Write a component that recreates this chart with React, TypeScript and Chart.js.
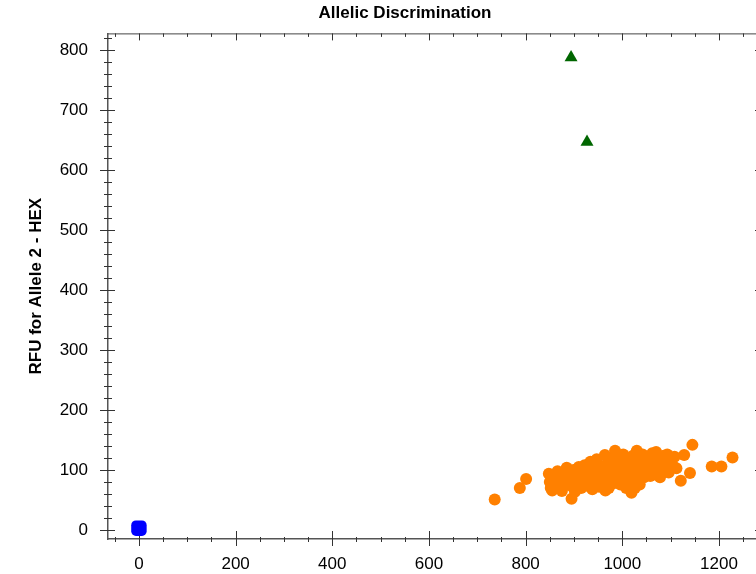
import React, { useEffect, useRef } from "react";
import { Chart, registerables } from "chart.js";

Chart.register(...registerables);

// Allele 1 homozygous (orange circles): [RFU Allele 1 - FAM, RFU Allele 2 - HEX]
const allele1Points: number[][] = [
  [736, 51], [788, 70], [801, 85],
  [848, 94], [852, 70], [850, 80], [858, 88], [862, 76], [866, 98], [855, 66], [870, 84], [868, 92],
  [875, 65], [878, 96], [882, 86], [885, 104], [888, 78], [892, 92], [895, 52], [897, 72], [899, 100], [880, 74], [890, 84],
  [902, 64], [905, 95], [908, 86], [910, 105], [912, 76], [915, 70], [918, 100], [920, 90], [922, 108], [925, 82], [928, 96], [903, 80], [927, 74],
  [932, 104], [935, 88], [938, 68], [940, 112], [942, 78], [945, 96], [948, 84], [950, 108], [952, 72], [955, 100], [958, 90], [934, 114], [947, 118],
  [962, 80], [964, 125], [966, 96], [968, 110], [970, 86], [972, 70], [975, 104], [978, 118], [980, 92], [982, 78], [985, 132], [987, 100], [989, 112], [965, 66], [976, 84],
  [992, 88], [994, 120], [996, 76], [998, 104], [1000, 96], [1002, 126], [1004, 84], [1006, 112], [1008, 70], [1010, 100], [1012, 118], [1014, 92], [1016, 106], [1019, 62], [1018, 80],
  [1022, 124], [1024, 96], [1026, 110], [1028, 86], [1030, 132], [1032, 102], [1034, 118], [1036, 76], [1038, 94], [1040, 108], [1042, 126], [1045, 88], [1048, 114], [1026, 70],
  [1052, 100], [1055, 122], [1058, 90], [1060, 110], [1062, 128], [1065, 98], [1068, 116], [1070, 130], [1072, 92], [1075, 106], [1078, 88], [1080, 120],
  [1083, 102], [1086, 124], [1090, 112], [1093, 126], [1096, 96], [1100, 118], [1104, 108], [1108, 122],
  [1112, 103], [1121, 82], [1128, 125], [1140, 95], [1145, 142], [1185, 106], [1205, 106], [1228, 121],
];

// Heterozygous (green triangles)
const heteroPoints: number[][] = [
  [894, 788],
  [927, 647],
];

// No template control (blue square)
const ntcPoints: number[][] = [[0, 3]];

const xTickValues = [0, 200, 400, 600, 800, 1000, 1200];
const yTickValues = [0, 100, 200, 300, 400, 500, 600, 700, 800];

const titleText = "Allelic Discrimination";
const yTitleText = "RFU for Allele 2 - HEX";

const FONT = "'Liberation Sans', Arial, sans-serif";

const framePlugin = {
  id: "frameTicks",
  beforeDatasetsDraw(chart: any) {
    const { ctx, chartArea } = chart;
    const { left, right, top, bottom } = chartArea;
    const xs = chart.scales.x;
    const ys = chart.scales.y;
    ctx.save();
    ctx.strokeStyle = "#444";
    ctx.lineWidth = 1;
    ctx.beginPath();
    ctx.moveTo(left, top + 0.5);
    ctx.lineTo(right, top + 0.5);
    ctx.moveTo(right - 0.5, top);
    ctx.lineTo(right - 0.5, bottom);
    ctx.stroke();

    ctx.strokeStyle = "#333";
    ctx.beginPath();
    for (let v = 0; v <= ys.max; v += 20) {
      const py = Math.round(ys.getPixelForValue(v)) + 0.5;
      const major = v % 100 === 0;
      if (major) {
        ctx.moveTo(left - 8, py);
        ctx.lineTo(left + 7, py);
        ctx.moveTo(right - 7, py);
        ctx.lineTo(right, py);
      } else {
        ctx.moveTo(left - 4, py);
        ctx.lineTo(left + 4, py);
        ctx.moveTo(right - 4, py);
        ctx.lineTo(right, py);
      }
    }
    for (let v = -50; v <= xs.max; v += 50) {
      const px = Math.round(xs.getPixelForValue(v)) + 0.5;
      if (px < left) continue;
      const major = v % 200 === 0;
      if (major) {
        ctx.moveTo(px, bottom - 8);
        ctx.lineTo(px, bottom + 7);
        ctx.moveTo(px, top);
        ctx.lineTo(px, top + 7);
      } else {
        ctx.moveTo(px, bottom - 2);
        ctx.lineTo(px, bottom + 3);
        ctx.moveTo(px, top);
        ctx.lineTo(px, top + 3.5);
      }
    }
    ctx.stroke();
    ctx.restore();
  },
};

export default function App() {
  const canvasRef = useRef<HTMLCanvasElement | null>(null);

  useEffect(() => {
    const canvas = canvasRef.current;
    if (!canvas) return;
    const toXY = (arr: number[][]) => arr.map(([x, y]) => ({ x, y }));
    const chart = new Chart(canvas, {
      type: "scatter",
      data: {
        datasets: [
          {
            label: "Allele 1",
            data: toXY(allele1Points),
            pointStyle: "circle",
            pointRadius: 6,
            pointHoverRadius: 6,
            backgroundColor: "#FF8000",
            borderColor: "#FF8000",
            borderWidth: 0,
          },
          {
            label: "Heterozygote",
            data: toXY(heteroPoints),
            pointStyle: "triangle",
            pointRadius: 7.5,
            pointHoverRadius: 7.5,
            backgroundColor: "#006600",
            borderColor: "#006600",
            borderWidth: 0,
          },
          {
            label: "NTC",
            data: toXY(ntcPoints),
            pointStyle: "rectRounded",
            pointRadius: 9,
            pointHoverRadius: 9,
            backgroundColor: "#0000FF",
            borderColor: "#0000FF",
            borderWidth: 0,
          },
        ],
      },
      options: {
        responsive: false,
        animation: false,
        devicePixelRatio: 1,
        layout: { padding: 0 },
        plugins: {
          legend: { display: false },
          tooltip: { enabled: false },
          title: {
            display: true,
            text: titleText,
            color: "#000",
            font: { family: FONT, size: 17, weight: "bold" },
            padding: { top: 3, bottom: 10 },
          },
        },
        scales: {
          x: {
            type: "linear",
            min: -64,
            max: 1289,
            afterBuildTicks: (axis: any) => {
              axis.ticks = xTickValues.map((v) => ({ value: v }));
            },
            afterFit: (axis: any) => {
              axis.height = 35;
            },
            grid: { display: false, drawTicks: false },
            border: { display: true, color: "#555", width: 1.5 },
            ticks: {
              color: "#000",
              padding: 15,
              maxRotation: 0,
              font: { family: FONT, size: 17 },
              callback: (v: any) => String(v),
            },
          },
          y: {
            type: "linear",
            min: -15,
            max: 828.3,
            afterBuildTicks: (axis: any) => {
              axis.ticks = yTickValues.map((v) => ({ value: v }));
            },
            afterFit: (axis: any) => {
              axis.width = 108;
            },
            grid: { display: false, drawTicks: false },
            border: { display: true, color: "#555", width: 1.5 },
            ticks: {
              color: "#000",
              padding: 20,
              font: { family: FONT, size: 17 },
              callback: (v: any) => String(v),
            },
            title: {
              display: true,
              text: yTitleText,
              color: "#000",
              font: { family: FONT, size: 17, weight: "bold" },
              padding: { top: 26, bottom: 0 },
            },
          },
          yRight: {
            type: "linear",
            axis: "y",
            position: "right",
            min: -15,
            max: 828.3,
            afterFit: (axis: any) => {
              axis.width = 48;
            },
            grid: { display: false, drawTicks: false },
            border: { display: false },
            ticks: { display: false },
          },
        },
      },
      plugins: [framePlugin],
    } as any);
    return () => chart.destroy();
  }, []);

  return (
    <div
      style={{
        position: "fixed",
        left: 0,
        top: 0,
        width: 756,
        height: 574,
        overflow: "hidden",
        background: "#fff",
      }}
    >
      <canvas ref={canvasRef} width={810} height={574} style={{ width: 810, height: 574, display: "block" }} />
    </div>
  );
}
